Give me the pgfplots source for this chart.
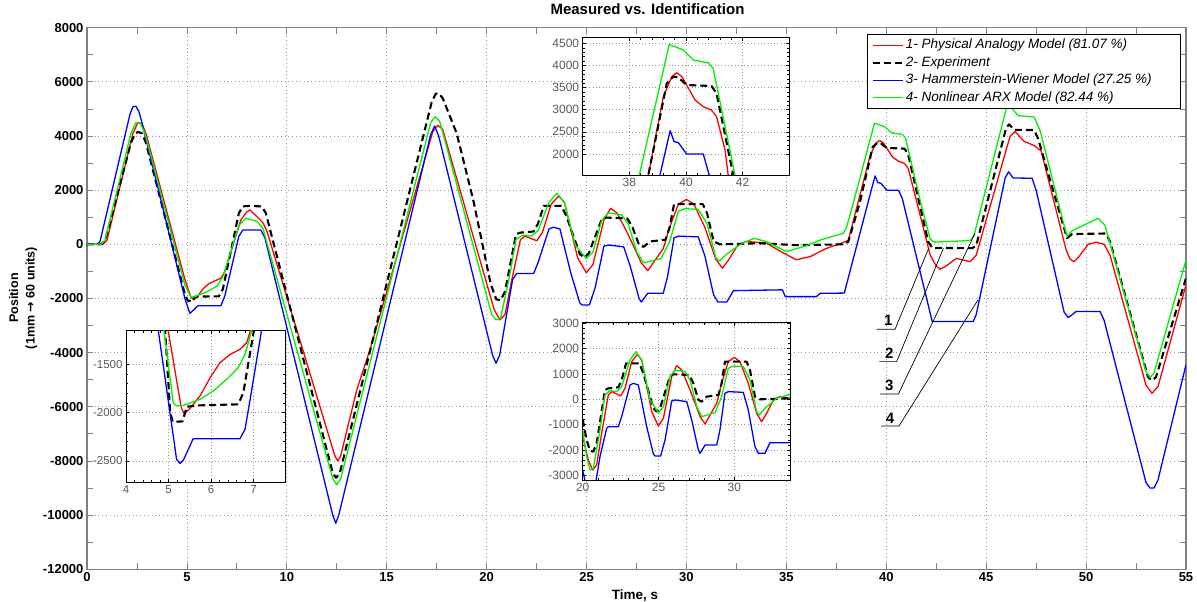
\documentclass[border=0pt]{standalone}
\usepackage{fontspec}
\setmainfont{Liberation Sans}
\newfontfamily\dejavu{DejaVu Sans}
\usepackage{pgfplots}
\pgfplotsset{compat=1.18}

\definecolor{mred}{RGB}{255,0,0}
\definecolor{mgreen}{RGB}{0,240,0}
\definecolor{mblue}{RGB}{0,0,255}
\definecolor{framegray}{RGB}{128,128,128}
\definecolor{gridgray}{RGB}{150,150,150}
\definecolor{labgray}{RGB}{90,90,90}

\tikzset{
  redl/.style={draw=mred, line width=1.3pt, line join=round},
  greenl/.style={draw=mgreen, line width=1.3pt, line join=round},
  bluel/.style={draw=mblue, line width=1.3pt, line join=round},
  blackl/.style={draw=black, line width=2.1pt, dash pattern=on 7pt off 4pt, line join=round},
}
\pgfplotsset{
  inset/.style={
    scale only axis, anchor=south west,
    axis background/.style={fill=white},
    axis line style={black, line width=0.8pt},
    tick align=inside, major tick length=3pt, minor tick length=2pt,
    tick style={black, line width=0.5pt},
    minor x tick num=4, minor y tick num=4,
    grid=major, major grid style={dash pattern=on 0.8pt off 2.5pt, gridgray, line width=0.7pt},
    scaled ticks=false,
    /pgf/number format/1000 sep={}, /pgf/number format/assume math mode=true,
    tick label style={font=\fontsize{12}{12}\selectfont, text=labgray},
    clip=true,
  },
}

\begin{document}
\begin{tikzpicture}
\path[use as bounding box] (-87pt,-32.7pt) rectangle (1110pt,569.3pt);
\begin{axis}[
  at={(0pt,0pt)}, anchor=south west,
  scale only axis, width=1099pt, height=541.6pt,
  xmin=0, xmax=55, ymin=-12000, ymax=8000,
  xtick={0,5,...,55}, ytick={-12000,-10000,...,8000},
  minor x tick num=1, minor y tick num=1,
  tick align=inside, major tick length=6pt, minor tick length=6pt,
  axis line style={framegray, line width=1.1pt},
  tick style={framegray, line width=0.8pt},
  grid=major, major grid style={dash pattern=on 0.8pt off 3pt, gridgray, line width=0.8pt},
  scaled ticks=false,
  /pgf/number format/1000 sep={}, /pgf/number format/assume math mode=true,
  tick label style={font=\bfseries\fontsize{13}{13}\selectfont},
  title={Measured vs. Identification},
  title style={font=\bfseries\fontsize{15}{15}\selectfont, at={(0.51,1)}, anchor=base, yshift=7.3pt},
  legend cell align=left,
  legend style={at={(0.9945,0.9878)}, anchor=north east, draw=black, fill=white,
    font=\itshape\fontsize{13.5}{13.5}\selectfont, inner xsep=4pt, inner ysep=2pt, row sep=0pt,
    nodes={inner sep=2pt, text height=10pt, text depth=3.5pt}},
  legend image code/.code={\draw[#1] (0pt,0pt) -- (30pt,0pt);},
]
\addplot[redl] coordinates {
(0,0)(0.8,0)(1.0,150)(2.3,4100)(2.55,4500)(2.75,4450)(2.95,4100)(4.9,-1300)(5.2,-1950)(5.35,-2050)(5.55,-1900)(5.8,-1650)(6.1,-1450)(6.4,-1350)(6.7,-1250)(6.9,-1000)(7.7,900)(8.0,1200)(8.15,1270)(8.4,1100)(8.8,800)(9.0,500)(12.4,-7800)(12.55,-8000)(12.7,-7800)(13.5,-5380)(14.2,-3800)(17.3,4150)(17.55,4400)(17.8,4250)(20.37,-2395)(20.66,-2790)(20.92,-2593)(21.25,-1342)(21.69,171)(21.91,303)(22.24,211)(22.51,132)(22.79,434)(23.23,1487)(23.6,1777)(23.89,1553)(24.55,-487)(24.99,-1053)(25.32,-750)(25.87,895)(26.2,1329)(26.53,1158)(27.08,368)(27.74,-684)(28.07,-974)(28.4,-618)(28.84,-158)(29.16,632)(29.6,1487)(30.0,1658)(30.37,1487)(30.92,632)(31.47,-553)(31.8,-882)(32.13,-553)(32.57,-26)(33.0,105)(34.0,50)(34.8,-300)(35.5,-570)(36.2,-450)(37.0,-150)(37.9,80)(38.1,150)(39.2,3295)(39.5,3750)(39.67,3837)(39.85,3750)(40.02,3559)(40.32,3220)(40.61,3069)(40.9,2994)(41.1,2800)(41.5,1650)(42.2,-400)(42.5,-800)(42.7,-920)(43.0,-800)(43.5,-520)(44.2,-640)(44.5,-400)(46.2,4000)(46.45,4160)(46.9,3800)(47.4,3650)(47.75,3450)(49.0,-200)(49.2,-550)(49.4,-640)(49.65,-450)(50.1,0)(50.5,80)(50.9,0)(51.2,-400)(53.0,-5200)(53.3,-5500)(53.6,-5250)(55,-1500)
};
\addlegendentry{1- Physical Analogy Model (81.07 \%)}
\addplot[blackl] coordinates {
(0,0)(0.7,0)(0.9,120)(2.2,3750)(2.4,4080)(2.55,4150)(2.75,4100)(2.95,3750)(4.9,-1850)(5.05,-2080)(5.3,-2100)(5.4,-1930)(6.6,-1920)(6.8,-1650)(7.6,1150)(7.8,1400)(8.1,1420)(8.75,1400)(8.95,1150)(12.3,-8450)(12.46,-8620)(12.65,-8450)(17.25,5250)(17.45,5560)(17.6,5580)(17.8,5400)(18.5,4100)(19.33,1640)(20.2,-1450)(20.48,-2027)(20.7,-2066)(20.92,-1737)(21.47,368)(21.69,434)(22.35,474)(22.57,763)(22.86,1421)(23.74,1421)(24.0,1026)(24.66,-355)(24.88,-487)(25.1,-355)(25.76,921)(25.98,987)(27.03,961)(27.3,632)(27.63,-26)(27.85,-92)(28.18,105)(28.95,171)(29.16,632)(29.38,1487)(30.81,1487)(31.03,1158)(31.36,105)(31.69,0)(33.67,40)(35.5,-30)(37.9,0)(38.1,100)(38.67,1525)(39.32,3596)(39.55,3747)(39.73,3732)(40.02,3559)(40.9,3536)(41.08,3370)(42.1,100)(42.3,-130)(44.3,-140)(44.5,-50)(46.0,4300)(46.15,4430)(46.4,4230)(47.4,4220)(47.6,3900)(48.9,600)(49.05,230)(49.3,380)(51.0,400)(51.2,100)(53.1,-4900)(53.3,-5030)(53.5,-4900)(55,-1250)
};
\addlegendentry{2- Experiment}
\addplot[bluel] coordinates {
(0,0)(0.5,0)(0.65,100)(2.15,4800)(2.3,5080)(2.45,5100)(2.6,4900)(2.75,4500)(4.9,-2000)(5.15,-2550)(5.3,-2450)(5.55,-2270)(6.7,-2270)(6.9,-1900)(7.6,300)(7.8,530)(8.7,530)(8.9,250)(12.3,-10000)(12.45,-10300)(12.6,-10000)(17.2,4050)(17.4,4370)(17.6,4000)(20.3,-4100)(20.47,-4390)(20.65,-4100)(21.3,-1300)(21.5,-1080)(22.35,-1079)(22.57,-684)(23.12,566)(23.34,632)(23.67,566)(24.22,-1079)(24.66,-2158)(24.77,-2237)(25.14,-2237)(25.43,-1605)(25.87,-66)(26.09,-26)(26.86,-92)(27.19,-816)(27.63,-2000)(27.74,-2132)(28.07,-1803)(28.84,-1803)(29.05,-1210)(29.38,237)(29.6,303)(30.59,276)(30.92,-421)(31.36,-1869)(31.58,-2132)(32.02,-2132)(32.35,-1711)(34.8,-1680)(34.95,-1930)(36.5,-1930)(36.7,-1810)(37.9,-1800)(39.08,1525)(39.44,2527)(39.58,2279)(39.73,2256)(40.02,2000)(40.61,2000)(40.8,1700)(42.3,-2850)(44.35,-2850)(44.5,-2600)(45.95,2450)(46.12,2680)(46.35,2450)(47.3,2440)(47.5,2000)(48.9,-2500)(49.1,-2700)(49.3,-2600)(49.5,-2480)(50.7,-2480)(50.9,-2800)(53.0,-8800)(53.2,-9000)(53.4,-9000)(53.6,-8700)(55,-4450)
};
\addlegendentry{3- Hammerstein-Wiener Model (27.25 \%)\hspace*{22pt}}
\addplot[greenl] coordinates {
(0,0)(0.7,0)(0.9,150)(2.2,4100)(2.45,4500)(2.65,4500)(2.9,4100)(4.9,-1500)(5.2,-1950)(5.4,-1930)(6.0,-1750)(6.5,-1550)(6.8,-1200)(7.6,700)(7.95,970)(8.5,850)(8.8,600)(12.3,-8650)(12.5,-8880)(12.7,-8650)(17.2,4500)(17.42,4710)(17.65,4550)(20.26,-2600)(20.48,-2790)(20.7,-2724)(21.14,-1210)(21.47,171)(21.8,342)(22.24,303)(22.57,500)(23.12,1553)(23.52,1882)(23.89,1553)(24.44,-26)(24.99,-526)(25.32,-290)(25.76,895)(26.09,1158)(26.75,1092)(27.08,763)(27.52,-290)(27.85,-684)(28.73,-526)(29.16,105)(29.6,1224)(29.93,1316)(30.59,1290)(31.03,763)(31.47,-487)(31.65,-618)(32.02,-355)(32.79,40)(33.4,220)(34.0,100)(35.0,-270)(36.0,-50)(36.7,160)(37.85,410)(38.0,600)(38.35,1525)(39.41,4477)(39.9,4350)(40.26,4123)(40.55,4086)(40.79,4063)(40.96,3935)(41.73,1525)(42.2,200)(42.4,80)(44.2,140)(44.4,350)(46.0,5000)(46.2,5100)(46.6,4750)(47.4,4700)(47.7,4200)(48.9,700)(49.05,300)(49.3,500)(50.0,750)(50.6,960)(50.95,700)(53.0,-4700)(53.2,-4920)(53.4,-4750)(55,-580)
};
\addlegendentry{4- Nonlinear ARX Model (82.44 \%)}
% annotation leaders
\draw[black, line width=0.7pt] (axis cs:39.52,-3135) -- (axis cs:40.44,-3135) -- (axis cs:42.12,-152);
\draw[black, line width=0.7pt] (axis cs:39.65,-4331) -- (axis cs:40.52,-4331) -- (axis cs:42.86,-145);
\draw[black, line width=0.7pt] (axis cs:39.69,-5524) -- (axis cs:40.61,-5524) -- (axis cs:44.44,402);
\draw[black, line width=0.7pt] (axis cs:39.74,-6706) -- (axis cs:40.64,-6706) -- (axis cs:44.59,-2053);
\node[font=\bfseries\fontsize{15}{15}\selectfont, anchor=base, inner sep=0pt] at (axis cs:40.1,-2995) {1};
\node[font=\bfseries\fontsize{15}{15}\selectfont, anchor=base, inner sep=0pt] at (axis cs:40.15,-4202) {2};
\node[font=\bfseries\fontsize{15}{15}\selectfont, anchor=base, inner sep=0pt] at (axis cs:40.15,-5395) {3};
\node[font=\bfseries\fontsize{15}{15}\selectfont, anchor=base, inner sep=0pt] at (axis cs:40.19,-6624) {4};
\end{axis}

% axis labels
\node[font=\bfseries\fontsize{13.5}{13.5}\selectfont, anchor=base] at (548pt,-30.5pt) {Time, s};
\node[rotate=90, align=center, font=\bfseries\fontsize{12.5}{16.5}\selectfont] at (-63.75pt,271.3pt) {Position\\(1mm {\dejavu\bfseries →} 60 units)};

% inset 1 (top)
\begin{axis}[inset, at={(495.7pt,394.3pt)}, width=206.6pt, height=137.3pt,
  xmin=36.35, xmax=43.65, ymin=1525, ymax=4628,
  xtick={38,40,42}, ytick={2000,2500,...,4500}]
\addplot[redl] coordinates {(38.55,1200)(38.67,1525)(39.2,3295)(39.5,3750)(39.67,3837)(39.85,3750)(40.02,3559)(40.32,3220)(40.61,3069)(40.9,2994)(41.08,2843)(41.38,2090)(41.49,1525)(41.55,1300)};
\addplot[blackl] coordinates {(38.6,1300)(38.67,1525)(39.32,3596)(39.55,3747)(39.73,3732)(40.02,3559)(40.9,3536)(41.08,3370)(41.67,1525)(41.75,1300)};
\addplot[bluel] coordinates {(39.0,1300)(39.08,1525)(39.44,2527)(39.58,2279)(39.73,2256)(40.02,2000)(40.61,2000)(40.82,1525)(40.9,1300)};
\addplot[greenl] coordinates {(38.2,1100)(38.35,1525)(39.41,4477)(39.9,4350)(40.26,4123)(40.55,4086)(40.79,4063)(40.96,3935)(41.73,1525)(41.8,1300)};
\end{axis}

% inset 2 (left)
\begin{axis}[inset, at={(39pt,87pt)}, width=159pt, height=151.6pt,
  xmin=4, xmax=7.74, ymin=-2720, ymax=-1152,
  xtick={4,5,6,7}, ytick={-2500,-2000,-1500},
  tick label style={font=\fontsize{11.5}{11.5}\selectfont, text=labgray}]
\addplot[redl] coordinates {(4.95,-1000)(4.99,-1145)(5.3,-1950)(5.37,-2010)(5.45,-1980)(5.55,-1931)(5.74,-1828)(5.98,-1638)(6.21,-1483)(6.45,-1397)(6.68,-1345)(6.84,-1276)(6.93,-1145)(6.96,-1000)};
\addplot[blackl] coordinates {(4.9,-1000)(4.92,-1145)(5.04,-2000)(5.1,-2095)(5.33,-2090)(5.43,-1938)(5.74,-1924)(6.64,-1914)(6.76,-1793)(6.92,-1379)(7.01,-1145)(7.05,-1000)};
\addplot[bluel] coordinates {(4.7,-1000)(4.76,-1150)(5.19,-2483)(5.27,-2524)(5.35,-2490)(5.58,-2269)(6.68,-2269)(6.8,-2172)(6.92,-1862)(7.19,-1145)(7.25,-1000)};
\addplot[greenl] coordinates {(4.85,-1000)(4.89,-1145)(5.11,-1897)(5.19,-1931)(5.35,-1924)(5.74,-1862)(6.05,-1776)(6.37,-1655)(6.64,-1534)(6.8,-1397)(6.96,-1145)(7.0,-1000)};
\end{axis}

% inset 3 (bottom middle)
\begin{axis}[inset, at={(495.7pt,89.3pt)}, width=207.3pt, height=157.3pt,
  xmin=20, xmax=33.67, ymin=-3185, ymax=3025,
  xtick={20,25,30}, ytick={-3000,-2000,...,3000}]
\addplot[redl] coordinates {(20,-1474)(20.37,-2395)(20.66,-2790)(20.92,-2593)(21.25,-1342)(21.69,171)(21.91,303)(22.24,211)(22.51,132)(22.79,434)(23.23,1487)(23.6,1777)(23.89,1553)(24.55,-487)(24.99,-1053)(25.32,-750)(25.87,895)(26.2,1329)(26.53,1158)(27.08,368)(27.74,-684)(28.07,-974)(28.4,-618)(28.84,-158)(29.16,632)(29.6,1487)(30.0,1658)(30.37,1487)(30.92,632)(31.47,-553)(31.8,-882)(32.13,-553)(32.57,-26)(33.0,105)(33.67,40)};
\addplot[blackl] coordinates {(20,-800)(20.26,-1605)(20.48,-2027)(20.7,-2066)(20.92,-1737)(21.47,368)(21.69,434)(22.35,474)(22.57,763)(22.86,1421)(23.74,1421)(24.0,1026)(24.66,-355)(24.88,-487)(25.1,-355)(25.76,921)(25.98,987)(27.03,961)(27.3,632)(27.63,-26)(27.85,-92)(28.18,105)(28.95,171)(29.16,632)(29.38,1487)(30.81,1487)(31.03,1158)(31.36,105)(31.69,0)(33.67,40)};
\addplot[bluel] coordinates {(20,-2790)(20.25,-3500)(20.8,-3500)(21.14,-2264)(21.58,-1145)(21.69,-1079)(22.35,-1079)(22.57,-684)(23.12,566)(23.34,632)(23.67,566)(24.22,-1079)(24.66,-2158)(24.77,-2237)(25.14,-2237)(25.43,-1605)(25.87,-66)(26.09,-26)(26.86,-92)(27.19,-816)(27.63,-2000)(27.74,-2132)(28.07,-1803)(28.84,-1803)(29.05,-1210)(29.38,237)(29.6,303)(30.59,276)(30.92,-421)(31.36,-1869)(31.58,-2132)(32.02,-2132)(32.35,-1711)(33.67,-1711)};
\addplot[greenl] coordinates {(20,-1210)(20.26,-2264)(20.48,-2790)(20.7,-2724)(21.14,-1210)(21.47,171)(21.8,342)(22.24,303)(22.57,500)(23.12,1553)(23.52,1882)(23.89,1553)(24.44,-26)(24.99,-526)(25.32,-290)(25.76,895)(26.09,1158)(26.75,1092)(27.08,763)(27.52,-290)(27.85,-684)(28.73,-526)(29.16,105)(29.6,1224)(29.93,1316)(30.59,1290)(31.03,763)(31.47,-487)(31.65,-618)(32.02,-355)(32.79,40)(33.56,171)(33.67,180)};
\end{axis}
\end{tikzpicture}
\end{document}
